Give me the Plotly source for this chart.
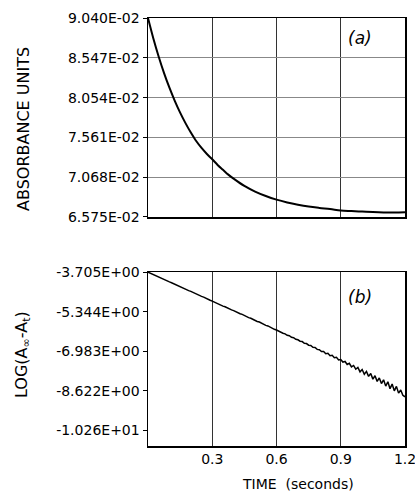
import plotly.graph_objects as go

# Panel (a): absorbance vs time
time_a = [0, 0.025, 0.05, 0.075, 0.1, 0.125, 0.15, 0.175, 0.2, 0.225, 0.25, 0.275, 0.3,
          0.325, 0.35, 0.375, 0.4, 0.45, 0.5, 0.55, 0.6, 0.65, 0.7, 0.75, 0.8, 0.85,
          0.9, 0.95, 1.0, 1.05, 1.1, 1.15, 1.2]
absorb_e2 = [9.040, 8.787, 8.561, 8.358, 8.177, 8.014, 7.868, 7.738, 7.621, 7.516, 7.430, 7.355, 7.290,
             7.220, 7.160, 7.100, 7.050, 6.960, 6.890, 6.835, 6.790, 6.755, 6.727, 6.704, 6.687, 6.673,
             6.655, 6.648, 6.642, 6.636, 6.632, 6.630, 6.634]
absorbance = [v * 1e-2 for v in absorb_e2]

# Panel (b): log(A_inf - A_t) vs time
time_b = [i / 100 for i in range(0, 121)]
log_diff = [-3.705, -3.748, -3.782, -3.826, -3.862, -3.908, -3.944, -3.985, -4.028, -4.062,
            -4.108, -4.142, -4.186, -4.224, -4.262, -4.308, -4.342, -4.386, -4.421, -4.468,
            -4.502, -4.548, -4.579, -4.628, -4.661, -4.709, -4.738, -4.789, -4.818, -4.866,
            -4.902, -4.948, -4.972, -5.028, -5.058, -5.112, -5.136, -5.188, -5.214, -5.268,
            -5.296, -5.349, -5.372, -5.428, -5.452, -5.509, -5.531, -5.588, -5.614, -5.664,
            -5.698, -5.748, -5.771, -5.829, -5.852, -5.909, -5.931, -5.988, -6.012, -6.071,
            -6.102, -6.152, -6.178, -6.235, -6.258, -6.318, -6.336, -6.402, -6.418, -6.482,
            -6.506, -6.562, -6.578, -6.652, -6.661, -6.728, -6.742, -6.818, -6.822, -6.902,
            -6.914, -6.988, -6.986, -7.078, -7.062, -7.162, -7.148, -7.246, -7.232, -7.338,
            -7.322, -7.428, -7.402, -7.524, -7.478, -7.628, -7.568, -7.722, -7.648, -7.832,
            -7.735, -7.928, -7.812, -8.018, -7.898, -8.132, -7.992, -8.228, -8.082, -8.318,
            -8.158, -8.422, -8.242, -8.528, -8.338, -8.618, -8.432, -8.712, -8.582, -8.802,
            -8.862]

# Tick labels
x_ticks = [0.3, 0.6, 0.9, 1.2]
x_ticktext = ["0.3", "0.6", "0.9", "1.2"]
ya_ticks = [0.09040, 0.08547, 0.08054, 0.07561, 0.07068, 0.06575]
ya_ticktext = ["9.040E-02", "8.547E-02", "8.054E-02", "7.561E-02", "7.068E-02", "6.575E-02"]
yb_ticks = [-3.705, -5.344, -6.983, -8.622, -10.26]
yb_ticktext = ["-3.705E+00", "-5.344E+00", "-6.983E+00", "-8.622E+00", "-1.026E+01"]

FONT = "DejaVu Sans"
W, H = 415, 493
ML, MR, MT, MB = 148, 10, 18, 47

fig = go.Figure()
fig.add_trace(go.Scatter(x=time_a, y=absorbance, mode="lines",
                         line=dict(color="black", width=2, shape="spline"),
                         xaxis="x", yaxis="y", showlegend=False, hoverinfo="skip"))
fig.add_trace(go.Scatter(x=time_b, y=log_diff, mode="lines",
                         line=dict(color="black", width=1.5),
                         xaxis="x2", yaxis="y2", showlegend=False, hoverinfo="skip"))

axis_common = dict(showline=True, linecolor="black", linewidth=1.5, mirror=True, zeroline=False,
                   ticks="outside", ticklen=4, tickcolor="black", ticklabeloverflow="allow",
                   tickfont=dict(family=FONT, size=14, color="black"))


def px_ann(text, px, py, size, angle=0, italic=False):
    pw, ph = W - ML - MR, H - MT - MB
    return dict(text=f"<i>{text}</i>" if italic else text,
                x=(px - ML) / pw, y=(H - MB - py) / ph,
                xref="paper", yref="paper", xanchor="center", yanchor="middle",
                showarrow=False, textangle=angle,
                font=dict(family=FONT, size=size, color="black"))


fig.update_layout(
    width=W, height=H,
    margin=dict(l=ML, r=MR, t=MT, b=MB, autoexpand=False),
    paper_bgcolor="white", plot_bgcolor="white",
    font=dict(family=FONT, color="black"),
    xaxis=dict(axis_common, domain=[0, 1], anchor="y", range=[0, 1.2], tickvals=x_ticks,
               showticklabels=False, ticks="", showgrid=True, gridcolor="#333", gridwidth=1),
    yaxis=dict(axis_common, domain=[0.535, 1], anchor="x", range=[0.065745, 0.090405],
               tickvals=ya_ticks, ticktext=ya_ticktext, showgrid=True, gridcolor="#888", gridwidth=1),
    xaxis2=dict(axis_common, domain=[0, 1], anchor="y2", range=[0, 1.2], tickvals=x_ticks,
                ticktext=x_ticktext, ticks="", showgrid=True, gridcolor="#333", gridwidth=1),
    yaxis2=dict(axis_common, domain=[0, 0.4065], anchor="x2", range=[-10.9, -3.7],
                tickvals=yb_ticks, ticktext=yb_ticktext, showgrid=False),
    annotations=[
        px_ann("(a)", 360, 38, 17, italic=True),
        px_ann("(b)", 360, 297, 17, italic=True),
        px_ann("ABSORBANCE UNITS", 23, 129, 16, angle=-90),
        px_ann("LOG(A<sub>∞</sub>-A<sub>t</sub>)", 22, 355, 16, angle=-90),
        px_ann("TIME  (seconds)", 298, 484, 14),
    ],
)

fig.write_html("out.html", config={"displayModeBar": False, "staticPlot": True},
               post_script="document.body.style.margin='0px';document.body.style.overflow='hidden';")
